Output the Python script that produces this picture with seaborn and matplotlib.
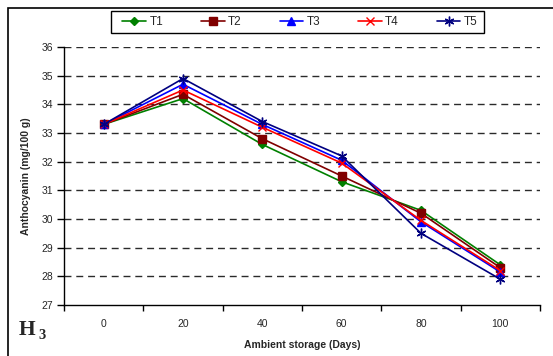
import matplotlib
matplotlib.use("Agg")
import matplotlib.pyplot as plt
import seaborn as sns
import pandas as pd
from matplotlib.patches import Rectangle
from matplotlib.ticker import FixedLocator, NullFormatter

days = [0, 20, 40, 60, 80, 100]
T1 = [33.3, 34.2, 32.6, 31.3, 30.3, 28.4]
T2 = [33.3, 34.35, 32.8, 31.5, 30.2, 28.3]
T3 = [33.3, 34.7, 33.3, 32.05, 29.9, 28.15]
T4 = [33.3, 34.5, 33.2, 31.95, 29.95, 28.2]
T5 = [33.3, 34.9, 33.4, 32.2, 29.5, 27.9]
series_names = ["T1", "T2", "T3", "T4", "T5"]
yticks = [27, 28, 29, 30, 31, 32, 33, 34, 35, 36]

rows = []
for name, vals in zip(series_names, [T1, T2, T3, T4, T5]):
    for d, v in zip(days, vals):
        rows.append({"Days": d, "Value": v, "Series": name})
df = pd.DataFrame(rows)

sns.set_style("white")
plt.rcParams["font.family"] = ["Liberation Sans", "DejaVu Sans"]

W, H = 553, 356
fig = plt.figure(figsize=(W / 100, H / 100), dpi=100)
ax = fig.add_axes([64 / W, 1 - 305 / H, (540 - 64) / W, (305 - 47) / H])

palette = {"T1": "#008000", "T2": "#800000", "T3": "#0000FF", "T4": "#FF0000", "T5": "#000080"}
markers = {"T1": "D", "T2": "s", "T3": "^", "T4": "x", "T5": (6, 2, 0)}
msizes = {"T1": 4, "T2": 5.5, "T3": 6, "T4": 6, "T5": 7}

for name in series_names:
    sub = df[df["Series"] == name]
    sns.lineplot(data=sub, x="Days", y="Value", ax=ax, color=palette[name],
                 marker=markers[name], markersize=msizes[name], linewidth=1.2,
                 markeredgecolor=palette[name], markeredgewidth=1.0,
                 label=name, legend=False)

ax.set_xlim(-10, 110)
ax.set_ylim(27, 36)
ax.set_xticks(days)
ax.set_xticklabels([str(d) for d in days])
ax.xaxis.set_minor_locator(FixedLocator([-10, 10, 30, 50, 70, 90, 110]))
ax.xaxis.set_minor_formatter(NullFormatter())
ax.tick_params(axis="x", which="major", length=0, labelsize=7.5, pad=10)
ax.tick_params(axis="x", which="minor", length=4, width=1, color="black", direction="out", bottom=True)
ax.set_yticks(yticks)
ax.tick_params(axis="y", which="major", length=5, width=1, color="black", direction="out",
               labelsize=7.5, left=True, pad=3)

for y in yticks[1:]:
    ax.axhline(y, color="#2a2a2a", linestyle=(0, (5, 3.5)), linewidth=1.0, zorder=0)

for s in ["top", "right"]:
    ax.spines[s].set_visible(False)
for s in ["left", "bottom"]:
    ax.spines[s].set_color("black")
    ax.spines[s].set_linewidth(1.0)

ax.set_xlabel("Ambient storage (Days)", fontsize=7.5, fontweight="bold", labelpad=8)
ax.set_ylabel("Anthocyanin (mg/100 g)", fontsize=7.5, fontweight="bold", labelpad=7)

handles, labels = ax.get_legend_handles_labels()
leg = fig.legend(handles, labels, loc="center", ncol=5,
                 bbox_to_anchor=(300 / W, 1 - 22 / H), fontsize=8.5,
                 frameon=False,
                 handlelength=2.0, handletextpad=0.3, columnspacing=3.2)

# legend frame
fig.patches.append(Rectangle((111 / W, 1 - 33 / H), (484 - 111) / W, 22 / H,
                             transform=fig.transFigure, fill=False,
                             edgecolor="black", linewidth=1.0))

# outer chart border
fig.patches.append(Rectangle((8 / W, -0.05), 1.2, 1 - 8 / H + 0.05,
                             transform=fig.transFigure, fill=False,
                             edgecolor="black", linewidth=1.2, zorder=-5))

fig.text(19 / W, 1 - 335 / H, "H", fontsize=15.5, fontweight="bold",
         family=["Liberation Serif", "DejaVu Serif"], ha="left", va="baseline")
fig.text(38 / W, 1 - 339 / H, "3", fontsize=10.5, fontweight="bold",
         family=["Liberation Serif", "DejaVu Serif"], ha="left", va="baseline")

fig.savefig("out.png", dpi=100)
